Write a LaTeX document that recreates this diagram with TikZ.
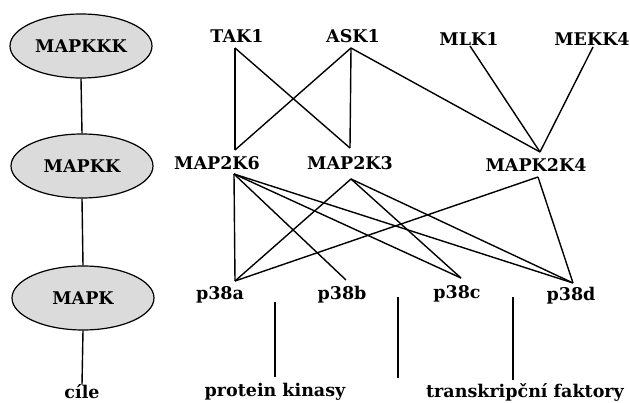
\documentclass[tikz,border=0pt]{standalone}
\usepackage{fontspec}
\setmainfont{DejaVu Serif}
\usetikzlibrary{shapes.geometric}
\begin{document}
\begin{tikzpicture}[x=1pt,y=-1pt,
  lbl/.style={inner sep=0pt,font=\fontsize{17.5}{18}\selectfont\bfseries,text=black},
  lvl/.style={draw=black,line width=1.2pt,fill=black!14,ellipse,minimum width=142pt,minimum height=64pt,inner sep=0pt,font=\fontsize{17.5}{18}\selectfont\bfseries},
  edge/.style={draw=black,line width=1.4pt}]
\useasboundingbox (0,0) rectangle (630,403);
\fill[white] (0,0) rectangle (630,403);
% level ellipses
\node[lvl] (kkk) at (81,46) {MAPKKK};
\node[lvl] (kk) at (82,166) {MAPKK};
\node[lvl] (k) at (83,298) {MAPK};
\node[lbl] (cile) at (82,392) {cíle};
\draw[edge] (kkk.south) -- (kk.north);
\draw[edge] (kk.south) -- (k.north);
\draw[edge] (k.south) -- (cile.north);
% kinase labels
\node[lbl] (tak1) at (237,36) {TAK1};
\node[lbl] (ask1) at (353,36) {ASK1};
\node[lbl] (mlk1) at (469,39) {MLK1};
\node[lbl] (mekk4) at (592,39) {MEKK4};
\node[lbl] (m6) at (217,163) {MAP2K6};
\node[lbl] (m3) at (350,163) {MAP2K3};
\node[lbl] (m4) at (536,165) {MAPK2K4};
\node[lbl] (pa) at (220,295) {p38a};
\node[lbl] (pb) at (342,295) {p38b};
\node[lbl] (pc) at (457,294) {p38c};
\node[lbl] (pd) at (571,296) {p38d};
\node[lbl] (pk) at (275,392) {protein kinasy};
\node[lbl] (tf) at (525,392) {transkripční faktory};
% ports
\coordinate (tak1b) at (235,48);
\coordinate (ask1b) at (351,48);
\coordinate (mlk1b) at (470,46);
\coordinate (mekk4b) at (593,47);
\coordinate (m6t) at (235,150);
\coordinate (m6b) at (234,174);
\coordinate (m3t) at (350,148);
\coordinate (m3b) at (351,179);
\coordinate (m4t) at (540,152);
\coordinate (m4b) at (538,177);
\coordinate (pat) at (235,281);
\coordinate (pbt) at (346,280);
\coordinate (pct) at (461,278);
\coordinate (pdt) at (573,283);
\coordinate (v1t) at (275,302);
\coordinate (v1b) at (275,377);
\coordinate (v2t) at (398,297);
\coordinate (v2b) at (398,378);
\coordinate (v3t) at (513,297);
\coordinate (v3b) at (513,380);
% MAPKKK -> MAPKK
\draw[edge] (tak1b) -- (m6t);
\draw[edge] (tak1b) -- (m3t);
\draw[edge] (ask1b) -- (m6t);
\draw[edge] (ask1b) -- (m3t);
\draw[edge] (ask1b) -- (m4t);
\draw[edge] (mlk1b) -- (m4t);
\draw[edge] (mekk4b) -- (m4t);
% MAPKK -> MAPK
\draw[edge] (m6b) -- (pat);
\draw[edge] (m6b) -- (pbt);
\draw[edge] (m6b) -- (pct);
\draw[edge] (m6b) -- (pdt);
\draw[edge] (m3b) -- (pat);
\draw[edge] (m3b) -- (pct);
\draw[edge] (m3b) -- (pdt);
\draw[edge] (m4b) -- (pat);
\draw[edge] (m4b) -- (pdt);
% target lines
\draw[edge] (v1t) -- (v1b);
\draw[edge] (v2t) -- (v2b);
\draw[edge] (v3t) -- (v3b);
\end{tikzpicture}
\end{document}
